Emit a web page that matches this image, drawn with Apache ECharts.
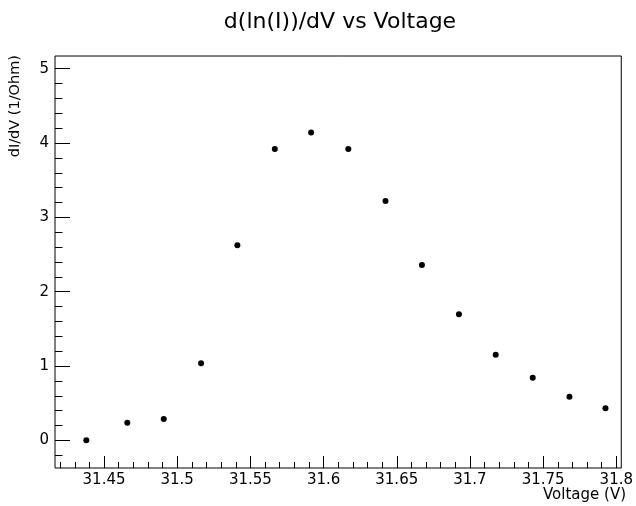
<!DOCTYPE html>
<html>
<head>
<meta charset="utf-8">
<title>d(ln(I))/dV vs Voltage</title>
<script src="https://cdn.jsdelivr.net/npm/echarts@6/dist/echarts.min.js"></script>
<style>
  html, body { margin: 0; padding: 0; background: #fff; }
  #chart { width: 636px; height: 506px; }
</style>
</head>
<body>
<div id="chart"></div>
<script>
// Measured points: voltage (V) and dI/dV (1/Ohm)
const voltage = [31.4379, 31.4659, 31.4908, 31.5163, 31.5411, 31.5667, 31.5915, 31.6169,
                 31.6423, 31.6672, 31.6925, 31.7176, 31.7429, 31.7680, 31.7926];
const dIdV = [0.003, 0.239, 0.289, 1.037, 2.626, 3.920, 4.140, 3.920,
              3.221, 2.358, 1.699, 1.153, 0.844, 0.588, 0.433];

// Axis ranges and tick labels
const xRange = [31.4165, 31.8034];
const yRange = [-0.37, 5.17];
const xMajorTicks = [31.45, 31.5, 31.55, 31.6, 31.65, 31.7, 31.75, 31.8];
const yMajorTicks = [0, 1, 2, 3, 4, 5];

const titleText = 'd(ln(I))/dV vs Voltage';
const xTitle = 'Voltage (V)';
const yTitle = 'dI/dV (1/Ohm)';

// Minor ticks: x every 0.01, y every 0.2, skipping the major positions
function minorTicks(range, step, majors) {
  const out = [];
  const start = Math.ceil(range[0] / step - 1e-9);
  const end = Math.floor(range[1] / step + 1e-9);
  for (let i = start; i <= end; i++) {
    const v = Math.round(i * step * 1000) / 1000;
    if (!majors.some(m => Math.abs(m - v) < 1e-9)) out.push(v);
  }
  return out;
}
const xMinorTicks = minorTicks(xRange, 0.01, xMajorTicks);
const yMinorTicks = minorTicks(yRange, 0.2, yMajorTicks);

const FONT = 'DejaVu Sans';

const chart = echarts.init(document.getElementById('chart'), null, { renderer: 'canvas' });

const baseAxis = {
  type: 'value',
  splitLine: { show: false },
  axisLine: { show: false, onZero: false }
};

chart.setOption({
  animation: false,
  backgroundColor: '#ffffff',
  grid: {
    left: 55, right: 10, top: 56, bottom: 38,
    show: true,
    borderColor: '#000',
    borderWidth: 1,
    backgroundColor: 'transparent'
  },
  xAxis: [
    Object.assign({}, baseAxis, {
      min: xRange[0], max: xRange[1], position: 'bottom',
      axisTick: { show: true, inside: true, length: 12, customValues: xMajorTicks,
                  lineStyle: { color: '#000', width: 1 } },
      axisLabel: { show: true, customValues: xMajorTicks, margin: 5,
                   color: '#000', fontFamily: FONT, fontSize: 15,
                   formatter: v => String(Math.round(v * 100) / 100) }
    }),
    Object.assign({}, baseAxis, {
      min: xRange[0], max: xRange[1], position: 'bottom',
      axisTick: { show: true, inside: true, length: 6, customValues: xMinorTicks,
                  lineStyle: { color: '#000', width: 1 } },
      axisLabel: { show: false }
    })
  ],
  yAxis: [
    Object.assign({}, baseAxis, {
      min: yRange[0], max: yRange[1], position: 'left',
      axisTick: { show: true, inside: true, length: 15, customValues: yMajorTicks,
                  lineStyle: { color: '#000', width: 1 } },
      axisLabel: { show: true, customValues: yMajorTicks, margin: 6,
                   color: '#000', fontFamily: FONT, fontSize: 15 }
    }),
    Object.assign({}, baseAxis, {
      min: yRange[0], max: yRange[1], position: 'left',
      axisTick: { show: true, inside: true, length: 7.5, customValues: yMinorTicks,
                  lineStyle: { color: '#000', width: 1 } },
      axisLabel: { show: false }
    })
  ],
  graphic: [
    {
      type: 'text', x: 340, y: 22,
      style: { text: titleText, fill: '#000', font: '22px "' + FONT + '"',
               textAlign: 'center', textVerticalAlign: 'middle' }
    },
    {
      type: 'text', x: 626, y: 495,
      style: { text: xTitle, fill: '#000', font: '15px "' + FONT + '"',
               textAlign: 'right', textVerticalAlign: 'middle' }
    },
    {
      type: 'text', x: 15, y: 55, rotation: Math.PI / 2,
      style: { text: yTitle, fill: '#000', font: '14.5px "' + FONT + '"',
               textAlign: 'right', textVerticalAlign: 'middle' }
    }
  ],
  series: [{
    type: 'scatter',
    xAxisIndex: 0, yAxisIndex: 0,
    data: voltage.map((v, i) => [v, dIdV[i]]),
    symbol: 'circle',
    symbolSize: 6,
    itemStyle: { color: '#000', opacity: 1 },
    emphasis: { disabled: true }
  }]
});
</script>
</body>
</html>
